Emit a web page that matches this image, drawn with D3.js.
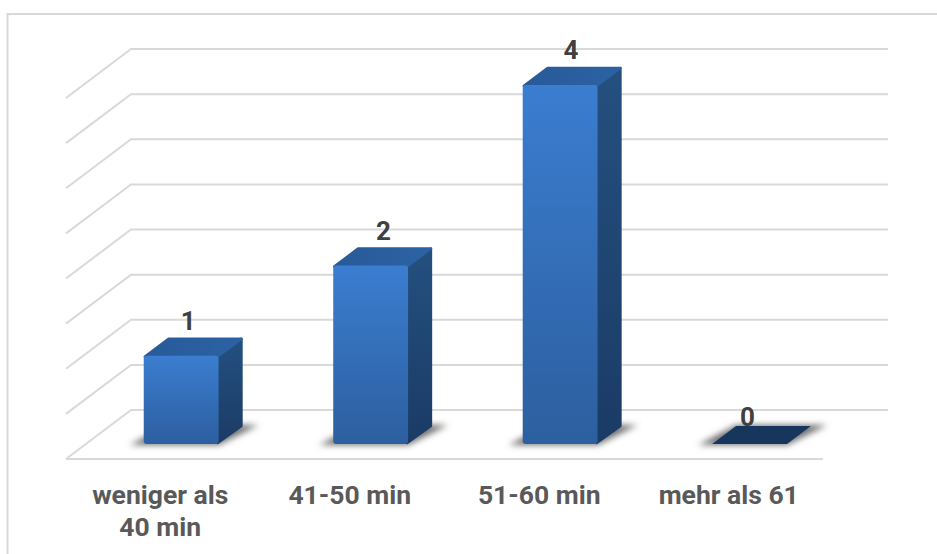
<!DOCTYPE html>
<html><head><meta charset="utf-8">
<script src="https://cdn.jsdelivr.net/npm/d3@7/dist/d3.min.js"></script>
<style>html,body{margin:0;padding:0;background:#fff}svg{display:block}text{font-family:Roboto,sans-serif;font-weight:700}</style>
</head><body><svg id="c" width="937" height="554"></svg>
<script>
const categoryLines = [["weniger als","40 min"],["41-50 min"],["51-60 min"],["mehr als 61"]];
const categories = ["weniger als 40 min","41-50 min","51-60 min","mehr als 61"];
const values = [1,2,4,0];
const gridTicks = [0,0.5,1,1.5,2,2.5,3,3.5,4];

const svg = d3.select("#c");
const defs = svg.append("defs");
const W=937,H=554;
const x = d3.scaleBand().domain(categories).range([131,888]).paddingInner(0.605).paddingOuter(0.3);
const y = d3.scaleLinear().domain([0,4]).range([410,49]);
// depth: 0 = back wall, 1 = front of the floor
const dx = d3.scaleLinear().domain([0,1]).range([0,-65]);
const dy = d3.scaleLinear().domain([0,1]).range([0,49]);
const front=0.694, back=0.327, topInset=2, barShift=1;
const labelNudge=[-5,1,-1,-14];
const grid="#d9d9d9";

function vGrad(id,stops){const g=defs.append("linearGradient").attr("id",id).attr("x1",0).attr("x2",0).attr("y1",0).attr("y2",1);
 stops.forEach(s=>g.append("stop").attr("offset",s[0]).attr("stop-color",s[1]));}
vGrad("gFront",[[0,"#3b7dd0"],[1,"#2c5f9f"]]);
vGrad("gSide",[[0,"#24507f"],[1,"#1b3b66"]]);
const gt=defs.append("linearGradient").attr("id","gTop").attr("x1",0).attr("x2",1).attr("y1",0).attr("y2",0);
gt.append("stop").attr("offset",0).attr("stop-color","#285a98");
gt.append("stop").attr("offset",1).attr("stop-color","#2c62a4");
defs.append("filter").attr("id","blur").attr("x","-30%").attr("y","-80%").attr("width","160%").attr("height","260%")
  .append("feGaussianBlur").attr("stdDeviation",3.2);

// chart frame (left and top edges)
svg.append("path").attr("d",`M7.5,${H}V14H${W}`).attr("fill","none").attr("stroke",grid).attr("stroke-width",2);

// gridlines: back wall + side wall
svg.append("g").selectAll("path").data(gridTicks).join("path")
  .attr("d",t=>`M${x.range()[0]+dx(1)},${y(t)+dy(1)}L${x.range()[0]},${y(t)}H${x.range()[1]}`)
  .attr("fill","none").attr("stroke",grid).attr("stroke-width",2);
// floor front edge
svg.append("line").attr("x1",x.range()[0]+dx(1)).attr("x2",x.range()[1]+dx(1)).attr("y1",y(0)+dy(1)).attr("y2",y(0)+dy(1))
  .attr("stroke",grid).attr("stroke-width",2);

const poly=p=>"M"+p.map(q=>q.join(",")).join("L")+"Z";
const bars=svg.append("g").selectAll("g").data(categories.map((c,i)=>({c,v:values[i],i}))).join("g");
const bw=x.bandwidth();
const xf=d=>x(d.c)+dx(front)+barShift, xb=d=>x(d.c)+dx(back)+barShift;
const base=y(0);
// floor shadow
bars.append("path").attr("filter","url(#blur)").attr("fill","#707070")
  .attr("d",d=>poly([[xf(d)-14,base+dy(front)+1],[xf(d)+bw,base+dy(front)+1],[xb(d)+bw+16,base+dy(back)-1],[xb(d),base+dy(back)-1]]));
bars.filter(d=>d.v>0).each(function(d){
  const g=d3.select(this);
  const yf=y(d.v)+dy(front)+topInset, yb=y(d.v)+dy(back)+topInset, b=base+dy(front), bb=base+dy(back);
  g.append("path").attr("fill","url(#gSide)").attr("stroke","url(#gSide)").attr("stroke-width",2.5).attr("stroke-linejoin","round")
    .attr("d",poly([[xf(d)+bw-1,yf+1],[xb(d)+bw-1,yb+1],[xb(d)+bw-1,bb],[xf(d)+bw-1,b-1]]));
  g.append("path").attr("fill","url(#gTop)").attr("stroke","url(#gTop)").attr("stroke-width",2.5).attr("stroke-linejoin","round")
    .attr("d",poly([[xf(d)+1,yf+1],[xf(d)+bw-1,yf+1],[xb(d)+bw-1,yb+1],[xb(d)+1,yb+1]]));
  g.append("rect").attr("x",xf(d)).attr("y",yf).attr("width",bw).attr("height",b-yf).attr("rx",3).attr("fill","url(#gFront)");
});
bars.filter(d=>d.v===0).append("path").attr("fill","#17365d")
  .attr("d",d=>poly([[xf(d),base+dy(front)],[xf(d)+bw,base+dy(front)],[xb(d)+bw,base+dy(back)],[xb(d),base+dy(back)]]));

// data labels
bars.append("text").attr("text-anchor","middle").attr("font-size",26).attr("fill","#404040")
  .attr("x",d=>(xf(d)+xb(d))/2+bw/2+labelNudge[d.i])
  .attr("y",d=>y(d.v)+dy(back)+(d.v>0?-6:0)).text(d=>d.v);

// category labels
const lab=svg.append("g").selectAll("text").data(categories).join("text")
  .attr("text-anchor","middle").attr("font-size",26.5).attr("fill","#595959")
  .attr("y",504);
lab.each(function(c,i){d3.select(this).selectAll("tspan").data(categoryLines[i]).join("tspan")
  .attr("x",x(c)+bw/2+dx(1)).attr("dy",(l,j)=>j?32:0).text(l=>l);});
</script></body></html>
